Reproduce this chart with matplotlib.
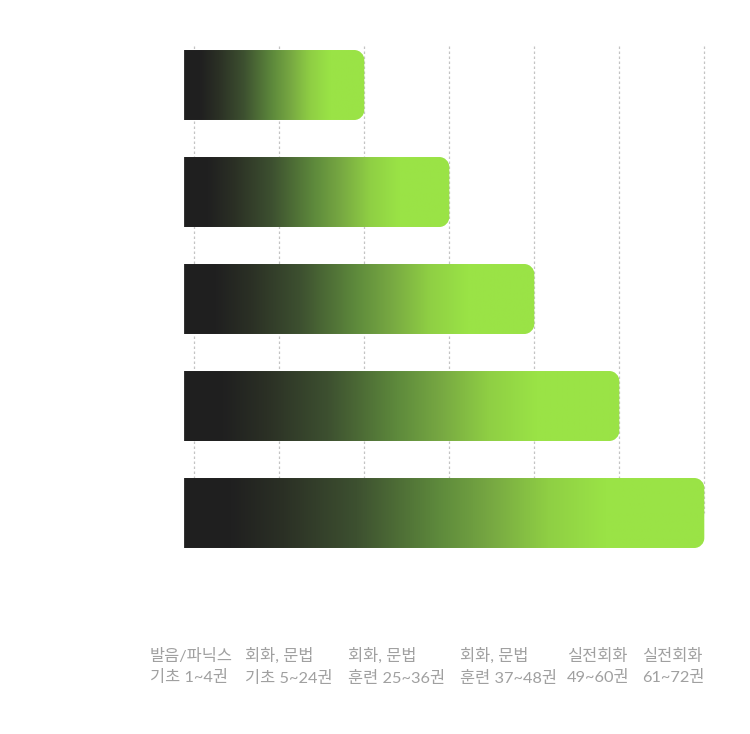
import numpy as np
import matplotlib
matplotlib.use('Agg')
import matplotlib.pyplot as plt
from matplotlib.path import Path
from matplotlib.patches import PathPatch
from matplotlib.colors import LinearSegmentedColormap

# data
levels = [2, 3, 4, 5, 6]
grid_ticks = [0, 1, 2, 3, 4, 5, 6]
labels = ['발음/파닉스\n기초 1~4권', '회화, 문법\n기초 5~24권', '회화, 문법\n훈련 25~36권',
          '회화, 문법\n훈련 37~48권', '실전회화\n49~60권', '실전회화\n61~72권']
label_left_px = [150, 245, 348, 460, 567, 642]

bar_start = -0.12
bar_height = 0.654
corner_px = 10

cmap = LinearSegmentedColormap.from_list('bar', [
    (0, '#1f1f1f'), (0.09, '#202020'), (0.19, '#2b3025'), (0.33, '#3d5030'),
    (0.49, '#5e8a3c'), (0.59, '#77a842'), (0.70, '#8fcf44'), (0.81, '#9ae346'),
    (1, '#9be346')])

fig = plt.figure(figsize=(7.5, 7.34), dpi=100)
ax = fig.add_axes([0, 0, 1, 1])
ax.set_xlim(-194.3 / 85, (750 - 194.3) / 85)
ax.set_ylim((734 - 85) / 107, -85 / 107)
ax.axis('off')

ax.vlines(grid_ticks, -0.364, len(levels) - 1, colors='#c4c4c4', linewidth=0.9,
          linestyles=(0, (2, 2)), zorder=1)

p0 = ax.transData.transform((0, 0))
p1 = ax.transData.transform((1, 1))
rx = corner_px / abs(p1[0] - p0[0])
ry = corner_px / abs(p1[1] - p0[1])


def right_rounded(x0, x1, y0, y1):
    k = 0.5523
    verts = [(x0, y0), (x1 - rx, y0),
             (x1 - rx + k * rx, y0), (x1, y0 + ry - k * ry), (x1, y0 + ry),
             (x1, y1 - ry),
             (x1, y1 - ry + k * ry), (x1 - rx + k * rx, y1), (x1 - rx, y1),
             (x0, y1), (x0, y0)]
    codes = [Path.MOVETO, Path.LINETO, Path.CURVE4, Path.CURVE4, Path.CURVE4,
             Path.LINETO, Path.CURVE4, Path.CURVE4, Path.CURVE4,
             Path.LINETO, Path.CLOSEPOLY]
    return Path(verts, codes)


grad = np.linspace(0, 1, 512).reshape(1, -1)
for i, v in enumerate(levels):
    y0 = i - bar_height / 2
    y1 = i + bar_height / 2
    patch = PathPatch(right_rounded(bar_start, v, y0, y1), facecolor='none',
                      edgecolor='none')
    ax.add_patch(patch)
    im = ax.imshow(grad, cmap=cmap, aspect='auto', extent=(bar_start, v, y1, y0),
                   interpolation='bilinear', zorder=2)
    im.set_clip_path(patch)

ax.set_xlim(-194.3 / 85, (750 - 194.3) / 85)
ax.set_ylim((734 - 85) / 107, -85 / 107)

for lab, lx in zip(labels, label_left_px):
    fig.text(lx / 750, 1 - 667 / 734, lab, ha='left', va='center', multialignment='left',
             fontsize=11.8, color='#a0a0a0', family=['Lato', 'Noto Sans CJK KR'],
             linespacing=1.55)

fig.savefig('out.png', dpi=100, facecolor='white')
